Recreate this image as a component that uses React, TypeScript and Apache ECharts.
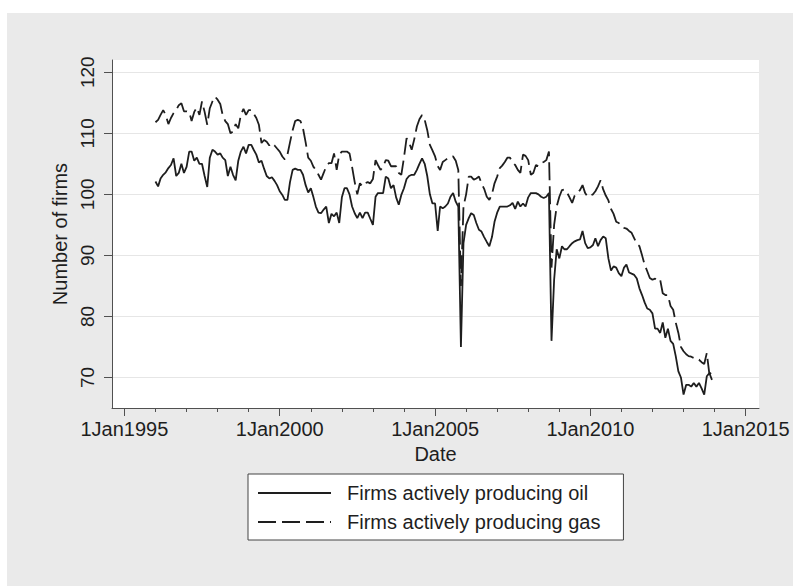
import React, { useEffect, useRef } from "react";
import * as echarts from "echarts";

// Monthly counts, January 1996 through December 2013 (one row per year).
const START_YEAR = 1996;

const oilFirmsByYear: number[][] = [
  [102.1, 101.3, 102.6, 103.2, 103.6, 104.3, 104.8, 105.9, 103.0, 103.5, 105.0, 103.5],
  [104.5, 107.0, 107.0, 105.5, 106.0, 105.0, 105.0, 103.0, 101.2, 106.0, 107.3, 107.0],
  [106.5, 106.7, 106.0, 105.6, 103.0, 104.5, 103.2, 102.3, 105.5, 107.0, 107.8, 106.7],
  [108.1, 108.1, 107.3, 106.5, 105.2, 105.5, 104.2, 103.0, 102.6, 102.8, 102.2, 101.5],
  [100.5, 99.9, 99.1, 99.1, 102.0, 104.0, 104.2, 104.0, 104.0, 103.2, 101.5, 100.3],
  [101.0, 99.5, 98.0, 97.0, 96.9, 97.5, 98.0, 95.3, 96.8, 96.4, 97.0, 95.3],
  [99.5, 101.0, 101.0, 100.0, 98.0, 96.9, 96.1, 97.0, 96.1, 97.0, 97.0, 96.0],
  [95.0, 99.6, 100.2, 100.2, 100.2, 102.9, 102.6, 101.0, 101.5, 99.5, 98.3, 99.9],
  [101.0, 102.5, 103.0, 103.2, 103.2, 104.0, 105.0, 105.9, 105.0, 103.0, 100.0, 98.5],
  [98.5, 94.0, 98.0, 97.7, 98.0, 98.5, 99.6, 100.2, 98.8, 98.0, 75.0, 92.0],
  [95.0, 96.1, 96.9, 96.6, 95.3, 94.2, 93.9, 93.0, 92.2, 91.5, 93.0, 95.5],
  [97.0, 98.0, 98.0, 98.0, 98.0, 98.2, 98.6, 97.6, 98.8, 98.0, 98.5, 98.0],
  [99.5, 100.2, 100.2, 100.2, 100.0, 99.6, 99.4, 99.6, 100.2, 76.0, 86.0, 91.0],
  [89.5, 91.5, 91.0, 91.0, 91.5, 92.0, 92.3, 92.5, 92.6, 94.0, 92.0, 91.2],
  [91.3, 91.7, 92.8, 91.5, 92.5, 93.1, 92.8, 89.5, 87.5, 88.2, 88.0, 87.1],
  [86.6, 88.0, 88.5, 87.2, 87.0, 86.8, 86.2, 84.6, 83.5, 82.3, 81.3, 81.1],
  [80.5, 78.0, 78.0, 77.3, 79.0, 76.5, 78.0, 76.0, 75.5, 73.5, 71.0, 70.0],
  [67.2, 68.8, 68.8, 68.5, 69.1, 68.5, 69.1, 68.2, 67.2, 70.2, 70.7, 69.6],
];

const gasFirmsByYear: number[][] = [
  [111.8, 112.2, 113.0, 113.8, 113.0, 111.5, 112.5, 113.3, 113.8, 114.6, 114.9, 113.6],
  [113.6, 113.5, 112.0, 113.5, 114.2, 113.0, 115.2, 113.5, 111.4, 114.1, 115.2, 116.0],
  [115.5, 114.8, 113.0, 112.0, 111.5, 110.0, 110.3, 111.5, 110.8, 113.0, 114.0, 113.0],
  [113.8, 113.8, 113.2, 112.5, 111.4, 108.4, 108.9, 108.6, 108.0, 108.4, 108.0, 107.5],
  [107.0, 106.2, 105.7, 106.5, 108.5, 110.5, 112.0, 112.2, 112.0, 110.8, 108.5, 106.0],
  [105.5, 104.5, 104.0, 103.2, 102.4, 103.5, 104.6, 105.1, 105.1, 106.7, 104.0, 106.5],
  [107.0, 107.0, 107.0, 106.7, 104.5, 102.0, 100.0, 101.8, 101.3, 101.8, 102.0, 101.8],
  [102.5, 105.6, 104.8, 104.0, 104.5, 105.6, 105.5, 104.6, 104.6, 104.6, 103.5, 103.2],
  [106.0, 109.2, 108.5, 107.3, 109.0, 111.1, 112.3, 113.0, 112.2, 110.5, 108.1, 107.2],
  [106.2, 104.6, 104.0, 105.3, 105.6, 105.9, 106.2, 106.2, 105.5, 104.0, 85.0, 98.0],
  [100.0, 102.9, 102.9, 102.4, 102.6, 102.9, 101.8, 100.9, 99.6, 99.1, 100.0, 101.8],
  [102.9, 104.3, 104.7, 105.3, 106.0, 106.0, 105.2, 104.8, 104.0, 103.5, 106.5, 106.3],
  [105.6, 103.2, 103.5, 104.8, 104.6, 105.1, 105.3, 105.6, 107.0, 88.0, 95.0, 98.0],
  [99.6, 100.7, 100.8, 100.3, 99.5, 98.6, 99.8, 100.2, 100.7, 101.5, 100.2, 99.6],
  [99.8, 100.0, 100.5, 101.3, 102.3, 100.8, 99.8, 99.0, 97.6, 96.8, 95.5, 95.3],
  [94.7, 94.5, 94.4, 94.0, 93.7, 92.8, 91.9, 91.5, 90.0, 88.5, 87.4, 86.3],
  [86.0, 86.2, 85.8, 86.0, 83.8, 83.5, 83.5, 81.7, 81.1, 79.0, 77.3, 75.0],
  [74.3, 73.8, 73.5, 73.4, 73.2, 72.9, 72.9, 72.5, 72.2, 74.0, 70.5, 71.0],
];

const seriesNames = ["Firms actively producing oil", "Firms actively producing gas"];
const yTickValues = [70, 80, 90, 100, 110, 120];
const labelledYears = [1995, 2000, 2005, 2010, 2015];
const tickYears = [
  1995, 1996, 1997, 1998, 1999, 2000, 2001, 2002, 2003, 2004, 2005,
  2006, 2007, 2008, 2009, 2010, 2011, 2012, 2013, 2014, 2015,
];

const FONT = "'Liberation Sans', Arial, Helvetica, sans-serif";
const INK = "#1e1e1e";
const AXIS = "#505050";
const YEAR_MS = 365.25 * 86400000;

const jan1 = (y: number) => Date.UTC(y, 0, 1);

function toPoints(rows: number[][]): [number, number][] {
  const out: [number, number][] = [];
  rows.forEach((row, yi) => {
    row.forEach((v, m) => {
      out.push([Date.UTC(START_YEAR + yi, m, 1), v]);
    });
  });
  return out;
}

export default function App() {
  const ref = useRef<HTMLDivElement>(null);

  useEffect(() => {
    if (!ref.current) return;
    const chart = echarts.init(ref.current, undefined, { renderer: "svg" });

    const xMin = jan1(1995) - 0.4 * YEAR_MS;
    const xMax = jan1(2015) + 0.43 * YEAR_MS;
    const tickLine = { color: AXIS, width: 1 };

    chart.setOption({
      animation: false,
      backgroundColor: "#eaeaea",
      textStyle: { fontFamily: FONT },
      graphic: [
        {
          type: "rect",
          silent: true,
          shape: { x: 0, y: 0, width: 793, height: 13 },
          style: { fill: "#ffffff" },
        },
        {
          type: "rect",
          silent: true,
          shape: { x: 0, y: 0, width: 7, height: 586 },
          style: { fill: "#ffffff" },
        },
      ],
      grid: {
        left: 112,
        right: 34,
        top: 60,
        bottom: 178,
        show: true,
        backgroundColor: "#ffffff",
        borderWidth: 0,
      },
      xAxis: [
        {
          type: "value",
          min: xMin,
          max: xMax,
          name: "Date",
          nameLocation: "middle",
          nameGap: 31,
          nameTextStyle: { fontSize: 20, color: INK, fontFamily: FONT },
          axisLine: { show: true, lineStyle: tickLine },
          axisTick: {
            show: true,
            length: 8,
            customValues: labelledYears.map(jan1),
            lineStyle: tickLine,
          },
          axisLabel: {
            customValues: labelledYears.map(jan1),
            formatter: (v: number) => "1Jan" + new Date(v).getUTCFullYear(),
            fontSize: 20,
            color: INK,
            margin: 11,
            fontFamily: FONT,
          },
          splitLine: { show: false },
        },
        {
          type: "value",
          min: xMin,
          max: xMax,
          position: "bottom",
          axisLine: { show: false },
          axisTick: {
            show: true,
            length: 4,
            customValues: tickYears.map(jan1),
            lineStyle: tickLine,
          },
          axisLabel: { show: false },
          splitLine: { show: false },
        },
      ],
      yAxis: {
        type: "value",
        min: 65,
        max: 122,
        name: "Number of firms",
        nameLocation: "middle",
        nameGap: 35,
        nameTextStyle: { fontSize: 20, color: INK, fontFamily: FONT },
        axisLine: { show: true, lineStyle: tickLine },
        axisTick: {
          show: true,
          length: 8,
          customValues: yTickValues,
          lineStyle: tickLine,
        },
        axisLabel: {
          customValues: yTickValues,
          rotate: 90,
          fontSize: 19,
          color: INK,
          margin: 15,
          fontFamily: FONT,
        },
        splitLine: { show: true, lineStyle: { color: "#e6e6e6", width: 1 } },
      },
      legend: {
        orient: "vertical",
        left: 248,
        top: 474,
        padding: [9, 23, 8, 9],
        itemWidth: 73,
        itemHeight: 20,
        itemGap: 9,
        backgroundColor: "#ffffff",
        borderColor: "#444444",
        borderWidth: 1,
        borderRadius: 0,
        selectedMode: false,
        // legend keys show only the line stroke, no marker
        itemStyle: { opacity: 0 },
        textStyle: { fontSize: 20, color: INK, fontFamily: FONT, padding: [0, 0, 0, 11] },
        data: seriesNames,
      },
      series: [
        {
          name: seriesNames[0],
          type: "line",
          xAxisIndex: 0,
          data: toPoints(oilFirmsByYear),
          symbol: "none",
          lineStyle: { color: INK, width: 1.8, type: "solid" },
          itemStyle: { color: INK },
          clip: false,
        },
        {
          name: seriesNames[1],
          type: "line",
          xAxisIndex: 0,
          data: toPoints(gasFirmsByYear),
          symbol: "none",
          lineStyle: { color: INK, width: 1.8, type: [18, 6] },
          itemStyle: { color: INK },
          clip: false,
        },
      ],
    });

    return () => chart.dispose();
  }, []);

  return (
    <div
      ref={ref}
      style={{ position: "fixed", left: 0, top: 0, width: 793, height: 586 }}
    />
  );
}
